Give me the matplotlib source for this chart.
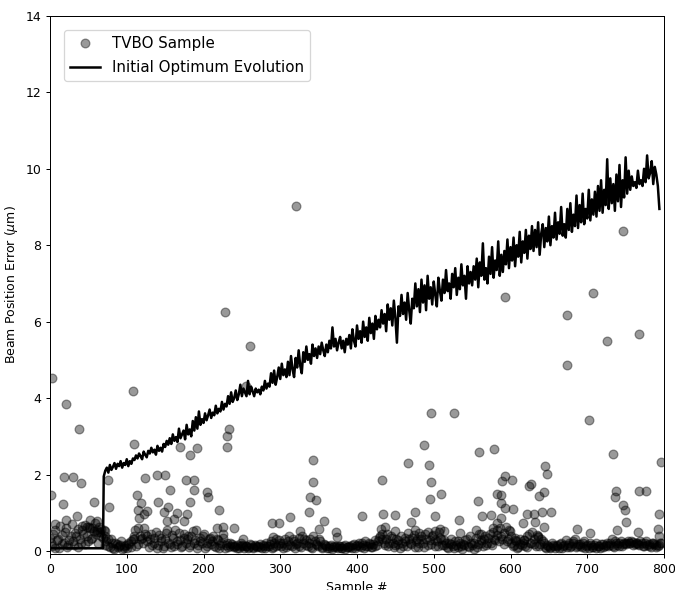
import numpy as np
import matplotlib
matplotlib.use("Agg")
import matplotlib.pyplot as plt

# ---- TVBO samples: scattered high values (sample index, error in um) ----
high_x = [3, 21, 38, 1, 18, 30, 41, 17, 57, 7, 21, 35, 42, 48, 55, 61, 65, 52, 61, 72, 71, 75, 77,
          108, 109, 113, 118, 114, 126, 116, 123, 124, 140, 150, 141, 154, 156, 148, 152, 162, 166,
          174, 179, 170, 183, 191, 177, 188, 188, 183, 205, 206, 220, 217, 225, 240, 109,
          228, 261, 255, 230, 231, 233, 252,
          321, 343, 343, 339, 347, 337, 313, 289, 298, 357, 290, 326, 351, 372, 374,
          406, 433, 434, 450, 467, 475, 471, 487, 494, 496, 495, 509, 496, 526, 502, 533, 431, 437,
          449, 476, 481, 501, 508, 513, 534, 555, 561, 558, 559, 563, 575, 577, 578, 582, 588,
          593, 593, 602, 589, 583, 587, 587, 593, 603, 599, 606, 616, 618, 622, 624, 627, 631, 632,
          636, 637, 641, 644, 644, 645, 647, 653,
          673, 673, 686, 702, 703, 707, 726, 734, 736, 737, 739, 746, 747, 749, 750, 766, 768, 768,
          776, 792, 793, 794, 796]
high_y = [4.52, 3.85, 3.18, 1.47, 1.94, 1.93, 1.79, 1.24, 1.28, 0.71, 0.81, 0.92, 0.66, 0.63, 0.60,
          0.55, 0.50, 0.81, 0.79, 0.52, 0.40, 1.85, 1.16,
          4.18, 2.80, 1.47, 1.26, 1.08, 1.05, 0.87, 0.97, 1.90, 2.00, 1.98, 1.28, 1.16, 1.60, 1.02,
          0.79, 0.84, 1.00, 0.79, 0.97, 2.73, 2.52, 2.70, 1.86, 1.86, 1.60, 1.28, 1.55, 1.40, 1.08,
          0.60, 0.63, 0.61, 0.32,
          6.25, 5.37, 4.32, 2.71, 3.00, 3.18, 0.32,
          9.02, 2.38, 1.81, 1.42, 1.33, 1.02, 0.90, 0.74, 0.74, 0.78, 0.36, 0.52, 0.58, 0.50, 0.37,
          0.92, 1.86, 0.98, 0.94, 2.31, 1.02, 0.77, 2.76, 2.26, 1.81, 1.37, 1.49, 3.60, 3.62, 0.92,
          0.81, 0.58, 0.63, 0.52, 0.55, 0.47, 0.52, 0.58, 0.52, 0.47, 0.55, 0.45, 1.31, 2.60, 0.92,
          0.94, 0.60, 2.67, 0.74, 0.87,
          6.65, 1.97, 1.86, 1.84, 1.48, 1.47, 1.26, 1.13, 1.10, 0.53, 0.29, 0.74, 0.29, 0.97, 1.71,
          1.76, 0.97, 0.76, 0.37, 1.44, 1.02, 1.55, 0.63, 2.23, 2.02, 1.02,
          6.17, 4.86, 0.58, 3.42, 0.47, 6.75, 5.49, 2.55, 1.42, 1.58, 0.55, 1.21, 8.38, 1.08, 0.76,
          0.50, 5.67, 1.58, 1.58, 0.58, 0.97, 0.40, 2.33]

# ---- TVBO samples: the dense band near zero (samples 0, 3, 6 ... 795) ----
base_x = list(range(0, 796, 3))
base_y = [0.35, 0.12, 0.55, 0.28, 0.08, 0.42, 0.20, 0.60, 0.15, 0.38,
          0.25, 0.48, 0.10, 0.32, 0.55, 0.18, 0.40, 0.62, 0.30, 0.52,
          0.45, 0.22, 0.58, 0.35, 0.15, 0.30, 0.10, 0.22, 0.05, 0.18,
          0.12, 0.25, 0.08, 0.15, 0.20, 0.10, 0.30, 0.55, 0.18, 0.40,
          0.35, 0.60, 0.25, 0.10, 0.45, 0.22, 0.50, 0.15, 0.35, 0.08,
          0.30, 0.55, 0.18, 0.42, 0.12, 0.25, 0.48, 0.10, 0.35, 0.20,
          0.40, 0.15, 0.52, 0.28, 0.08, 0.35, 0.22, 0.45, 0.12, 0.30,
          0.18, 0.40, 0.10, 0.28, 0.15, 0.35, 0.08, 0.22, 0.12, 0.18,
          0.10, 0.15, 0.08, 0.20, 0.12, 0.14, 0.09, 0.18, 0.11, 0.16,
          0.10, 0.18, 0.08, 0.14, 0.20, 0.12, 0.25, 0.10, 0.32, 0.15,
          0.22, 0.08, 0.30, 0.15, 0.38, 0.12, 0.25, 0.18, 0.35, 0.10,
          0.20, 0.28, 0.12, 0.32, 0.08, 0.25, 0.15, 0.30, 0.10, 0.18,
          0.12, 0.08, 0.16, 0.10, 0.14, 0.07, 0.12, 0.09, 0.15, 0.10,
          0.13, 0.08, 0.18, 0.12, 0.22, 0.10, 0.15, 0.25, 0.12, 0.18,
          0.10, 0.28, 0.15, 0.35, 0.45, 0.20, 0.30, 0.12, 0.40, 0.22,
          0.15, 0.28, 0.08, 0.22, 0.35, 0.12, 0.30, 0.18, 0.42, 0.25,
          0.10, 0.32, 0.20, 0.45, 0.15, 0.28, 0.38, 0.12, 0.25, 0.50,
          0.30, 0.15, 0.22, 0.08, 0.18, 0.12, 0.25, 0.10, 0.20, 0.06,
          0.15, 0.30, 0.10, 0.22, 0.05, 0.35, 0.18, 0.28, 0.12, 0.40,
          0.20, 0.45, 0.15, 0.32, 0.55, 0.25, 0.40, 0.18, 0.62, 0.30,
          0.22, 0.12, 0.35, 0.08, 0.18, 0.15, 0.28, 0.10, 0.45, 0.20,
          0.30, 0.12, 0.38, 0.18, 0.25, 0.10, 0.15, 0.08, 0.20, 0.12,
          0.16, 0.09, 0.22, 0.12, 0.28, 0.15, 0.10, 0.20, 0.32, 0.14,
          0.18, 0.10, 0.25, 0.12, 0.08, 0.16, 0.11, 0.20, 0.14, 0.09,
          0.18, 0.12, 0.22, 0.15, 0.30, 0.10, 0.20, 0.14, 0.26, 0.18,
          0.22, 0.25, 0.20, 0.24, 0.18, 0.22, 0.16, 0.20, 0.12, 0.25,
          0.18, 0.10, 0.22, 0.15, 0.12, 0.20]

# ---- more of the band (samples 1, 4, 7 ... 796) ----
band_x = list(range(1, 797, 3))
band_y = [0.22, 0.45, 0.08, 0.30, 0.65, 0.18, 0.50, 0.10, 0.28, 0.70,
          0.15, 0.38, 0.58, 0.20, 0.45, 0.68, 0.25, 0.60, 0.35, 0.72,
          0.50, 0.62, 0.40, 0.55, 0.25, 0.12, 0.30, 0.08, 0.20, 0.10,
          0.15, 0.06, 0.12, 0.09, 0.18, 0.25, 0.40, 0.12, 0.60, 0.30,
          0.20, 0.45, 0.38, 0.30, 0.15, 0.35, 0.08, 0.42, 0.25, 0.12,
          0.48, 0.20, 0.10, 0.35, 0.55, 0.18, 0.28, 0.12, 0.45, 0.30,
          0.10, 0.38, 0.22, 0.55, 0.15, 0.25, 0.40, 0.08, 0.20, 0.35,
          0.25, 0.12, 0.30, 0.08, 0.20, 0.45, 0.15, 0.10, 0.22, 0.12,
          0.14, 0.08, 0.12, 0.16, 0.09, 0.13, 0.10, 0.15, 0.07, 0.12,
          0.14, 0.10, 0.16, 0.09, 0.12, 0.18, 0.08, 0.22, 0.12, 0.28,
          0.12, 0.20, 0.10, 0.25, 0.15, 0.32, 0.08, 0.22, 0.14, 0.40,
          0.30, 0.15, 0.22, 0.10, 0.38, 0.18, 0.12, 0.25, 0.08, 0.15,
          0.09, 0.12, 0.06, 0.14, 0.10, 0.12, 0.08, 0.13, 0.06, 0.11,
          0.10, 0.15, 0.09, 0.16, 0.12, 0.20, 0.08, 0.14, 0.22, 0.10,
          0.18, 0.12, 0.25, 0.40, 0.30, 0.15, 0.45, 0.22, 0.35, 0.10,
          0.30, 0.18, 0.40, 0.12, 0.25, 0.48, 0.20, 0.35, 0.10, 0.32,
          0.22, 0.40, 0.10, 0.30, 0.50, 0.18, 0.42, 0.28, 0.12, 0.35,
          0.15, 0.28, 0.10, 0.20, 0.32, 0.08, 0.15, 0.25, 0.12, 0.18,
          0.28, 0.12, 0.40, 0.15, 0.22, 0.10, 0.45, 0.20, 0.32, 0.15,
          0.35, 0.22, 0.50, 0.28, 0.42, 0.60, 0.30, 0.48, 0.25, 0.55,
          0.40, 0.15, 0.25, 0.10, 0.32, 0.20, 0.12, 0.38, 0.22, 0.50,
          0.18, 0.42, 0.12, 0.30, 0.20, 0.08, 0.14, 0.10, 0.16, 0.08,
          0.12, 0.18, 0.08, 0.15, 0.10, 0.22, 0.14, 0.26, 0.10, 0.18,
          0.12, 0.20, 0.09, 0.15, 0.22, 0.10, 0.16, 0.08, 0.13, 0.18,
          0.10, 0.16, 0.12, 0.20, 0.14, 0.25, 0.16, 0.22, 0.12, 0.20,
          0.18, 0.20, 0.26, 0.16, 0.22, 0.18, 0.25, 0.14, 0.20, 0.16,
          0.14, 0.22, 0.18, 0.10, 0.16, 0.20]

# ---- initial optimum evolution: flat part, then every 2nd sample from 70 to 794 ----
flat_x = [0, 69]
flat_y = [0.07, 0.07]
evo_x = list(range(70, 795, 2))
evo_y = [1.95, 2.10, 2.18, 2.05, 2.25, 2.12, 2.20, 2.30, 2.15, 2.28, 2.22, 2.35, 2.18, 2.30, 2.25, 2.40, 2.22, 2.35, 2.28, 2.42,
         2.38, 2.50, 2.42, 2.55, 2.48, 2.40, 2.60, 2.52, 2.45, 2.62, 2.55, 2.70, 2.58, 2.65, 2.52, 2.75, 2.62, 2.70, 2.60, 2.80,
         2.72, 2.88, 2.78, 2.95, 2.80, 3.05, 2.88, 2.98, 2.85, 3.20, 2.95, 3.05, 3.15, 2.92, 3.30, 3.05, 3.18, 3.00, 3.40, 3.15,
         3.50, 3.20, 3.65, 3.30, 3.45, 3.35, 3.60, 3.42, 3.55, 3.70, 3.48, 3.62, 3.55, 3.80, 3.60, 3.72, 3.65, 3.90, 3.70, 3.85,
         3.78, 4.05, 3.85, 4.15, 3.90, 4.00, 4.20, 3.95, 4.10, 4.35, 4.05, 4.25, 4.15, 4.05, 4.45, 4.10, 4.30, 4.18, 4.05, 4.25,
         4.15, 4.22, 4.10, 4.30, 4.20, 4.45, 4.25, 4.38, 4.30, 4.65, 4.40, 4.72, 4.35, 4.55, 4.80, 4.50, 4.90, 4.60, 4.75, 4.55,
         4.95, 4.60, 5.10, 4.75, 4.55, 5.05, 4.80, 5.25, 4.85, 4.65, 5.20, 4.95, 5.35, 5.00, 5.15, 4.90, 5.40, 5.10, 5.30, 5.05,
         5.35, 5.15, 5.45, 5.25, 5.10, 5.40, 5.20, 5.50, 5.30, 5.85, 5.35, 5.55, 5.25, 5.45, 5.60, 5.30, 5.50, 5.20, 5.55, 5.40,
         5.65, 5.30, 5.80, 5.50, 5.35, 5.90, 5.55, 5.75, 5.45, 6.00, 5.60, 5.85, 5.50, 6.10, 5.70, 5.95, 5.55, 6.15, 5.80, 6.05,
         5.85, 6.30, 5.95, 6.20, 5.75, 6.45, 6.05, 6.35, 5.90, 6.55, 6.10, 5.45, 6.40, 6.15, 6.70, 6.20, 6.50, 6.05, 6.75, 6.30,
         5.95, 6.60, 6.35, 7.00, 6.40, 6.85, 6.25, 7.10, 6.50, 6.95, 6.30, 7.20, 6.60, 6.90, 6.45, 7.05, 6.70, 6.40, 7.15, 6.80,
         6.55, 7.10, 6.75, 7.35, 6.80, 7.00, 6.60, 7.25, 6.90, 7.40, 6.70, 7.15, 6.85, 7.50, 6.95, 7.20, 6.60, 7.45, 7.00, 7.30,
         6.95, 7.45, 7.10, 7.65, 6.90, 7.55, 7.20, 8.05, 7.10, 7.40, 7.00, 7.70, 7.25, 7.95, 7.15, 7.60, 7.35, 8.10, 7.20, 7.75,
         7.30, 7.85, 7.50, 8.15, 7.40, 7.95, 7.60, 8.20, 7.45, 8.00, 7.70, 8.35, 7.55, 8.10, 7.80, 8.40, 7.65, 8.25, 7.90, 8.50,
         7.85, 8.40, 7.95, 8.60, 7.75, 8.30, 8.55, 7.95, 8.45, 8.10, 8.75, 8.00, 8.50, 8.20, 8.85, 8.15, 8.60, 8.30, 9.00, 8.25,
         8.55, 8.20, 8.95, 8.40, 9.10, 8.35, 8.80, 8.50, 9.30, 8.45, 9.05, 8.60, 9.35, 8.55, 8.95, 8.70, 9.45, 8.65, 9.20, 8.80,
         9.40, 8.75, 9.55, 8.90, 9.70, 8.85, 9.45, 9.05, 10.25, 8.95, 9.75, 9.10, 9.60, 8.90, 9.85, 9.15, 10.10, 9.00, 9.70, 9.25,
         10.30, 9.35, 9.95, 9.45, 9.80, 9.55, 9.65, 9.50, 9.95, 9.60, 9.70, 9.55, 10.00, 9.65, 10.35, 9.75, 9.90, 10.20, 9.60, 10.05,
         9.85, 9.55, 8.95]

sample_x = high_x + base_x + band_x
sample_y = high_y + base_y + band_y
line_x = flat_x + evo_x
line_y = flat_y + evo_y

# drawn at 90 dpi so default sizes come out like the reference
fig = plt.figure(figsize=(7.5, 590 / 90), dpi=90)
ax = fig.add_axes([0.0741, 0.061, 0.9096, 0.912])

ax.plot(sample_x, sample_y, "o", color="k", alpha=0.4, markersize=7, label="TVBO Sample")
ax.plot(line_x, line_y, color="k", linewidth=2, label="Initial Optimum Evolution")

ax.set_xlim(0, 800)
ax.set_ylim(-0.08, 14)
ax.set_xlabel("Sample #")
ax.set_ylabel(r"Beam Position Error ($\mu$m)")
ax.legend(loc="upper left", fontsize=12, borderaxespad=0.95, labelspacing=0.6)

fig.savefig("out.png", dpi=90)
